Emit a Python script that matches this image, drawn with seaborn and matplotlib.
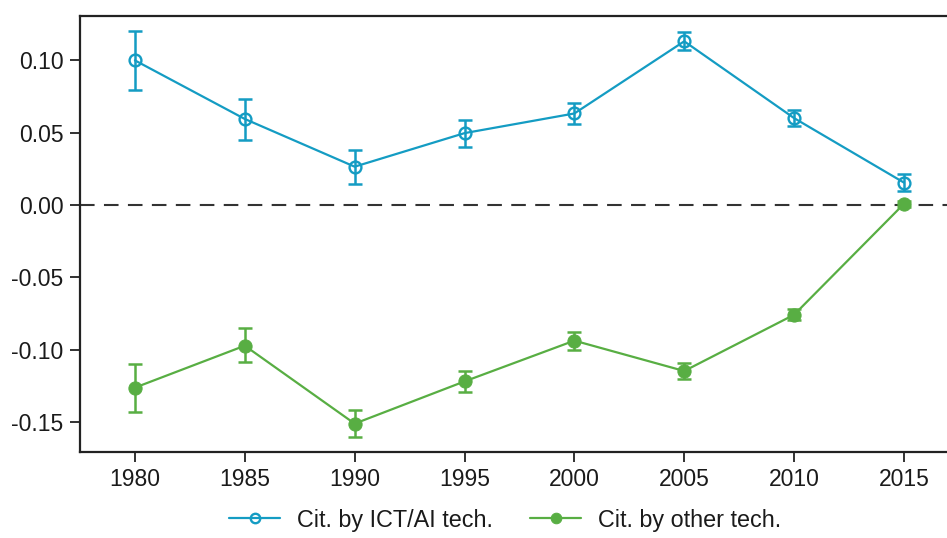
import numpy as np
import pandas as pd
import matplotlib
matplotlib.use("Agg")
import matplotlib.pyplot as plt
import seaborn as sns

# ============================
# data
# ============================
YEARS = [1980, 1985, 1990, 1995, 2000, 2005, 2010, 2015]

ICT_EST = [0.100, 0.0595, 0.0265, 0.0497, 0.0633, 0.1132, 0.0601, 0.0155]
ICT_LO = [0.0795, 0.0450, 0.0145, 0.0399, 0.0558, 0.1072, 0.0546, 0.0099]
ICT_HI = [0.1205, 0.0735, 0.0380, 0.0585, 0.0708, 0.1199, 0.0657, 0.0214]

OTH_EST = [-0.1263, -0.0973, -0.1512, -0.1220, -0.0938, -0.1148, -0.0759, 0.0008]
OTH_LO = [-0.1430, -0.1088, -0.1607, -0.1291, -0.1003, -0.1200, -0.0795, -0.0012]
OTH_HI = [-0.1098, -0.0853, -0.1418, -0.1146, -0.0876, -0.1090, -0.0722, 0.0028]

LABELS = ["Cit. by ICT/AI tech.", "Cit. by other tech."]
Y_TICKS = [0.10, 0.05, 0.00, -0.05, -0.10, -0.15]

BLUE = "#149cc3"
GREEN = "#58ae43"

# ============================
# plot
# ============================
sns.set_style("ticks")
plt.rcParams["font.family"] = ["Liberation Sans", "DejaVu Sans"]
plt.rcParams["text.color"] = "#1a1a1a"
plt.rcParams["xtick.labelcolor"] = "#1a1a1a"
plt.rcParams["ytick.labelcolor"] = "#1a1a1a"

fig = plt.figure(figsize=(9.47, 5.38), dpi=100)
ax = fig.add_axes([80 / 947, 1 - 451.7 / 538, 1 - 80 / 947, (451.7 - 16) / 538])

ax.axhline(0, color="#333333", lw=1.5, ls=(0, (7, 4.5)), zorder=1)

df = pd.DataFrame({"year": YEARS, "ict": ICT_EST, "oth": OTH_EST})

ict_err = [np.array(ICT_EST) - np.array(ICT_LO), np.array(ICT_HI) - np.array(ICT_EST)]
oth_err = [np.array(OTH_EST) - np.array(OTH_LO), np.array(OTH_HI) - np.array(OTH_EST)]

ax.errorbar(YEARS, ICT_EST, yerr=ict_err, fmt="none", ecolor=BLUE,
            elinewidth=1.8, capsize=4.8, capthick=1.8, zorder=3)
ax.errorbar(YEARS, OTH_EST, yerr=oth_err, fmt="none", ecolor=GREEN,
            elinewidth=1.8, capsize=4.8, capthick=1.8, zorder=3)

sns.lineplot(data=df, x="year", y="ict", ax=ax, color=BLUE, lw=1.6,
             marker="o", markersize=8.5, markerfacecolor="none",
             markeredgecolor=BLUE, markeredgewidth=1.7, label=LABELS[0], zorder=4)
sns.lineplot(data=df, x="year", y="oth", ax=ax, color=GREEN, lw=1.6,
             marker="o", markersize=9.5, markerfacecolor=GREEN,
             markeredgecolor=GREEN, label=LABELS[1], zorder=4)

ax.set_xlim(1977.5, 2016.96)
ax.set_ylim(-0.1706, 0.1307)
ax.set_xticks(YEARS)
ax.set_yticks(Y_TICKS)
ax.set_yticklabels([f"{v:.2f}" for v in Y_TICKS])
ax.set_xlabel("")
ax.set_ylabel("")
ax.tick_params(axis="both", labelsize=16.5, length=7, width=1.3, color="#222222",
               direction="out", pad=5)

for side in ["left", "bottom", "top"]:
    ax.spines[side].set_linewidth(1.6)
    ax.spines[side].set_color("#222222")
ax.spines["right"].set_visible(False)

handles, labels = ax.get_legend_handles_labels()
ax.legend_.remove()
fig.legend(handles, labels, loc="center", bbox_to_anchor=(505 / 947, 1 - 520 / 538),
           ncol=2, frameon=False, fontsize=16.8, handlelength=2.2,
           handletextpad=0.7, columnspacing=1.6, markerscale=0.8)

plt.savefig("out.png", dpi=100)
plt.close()
